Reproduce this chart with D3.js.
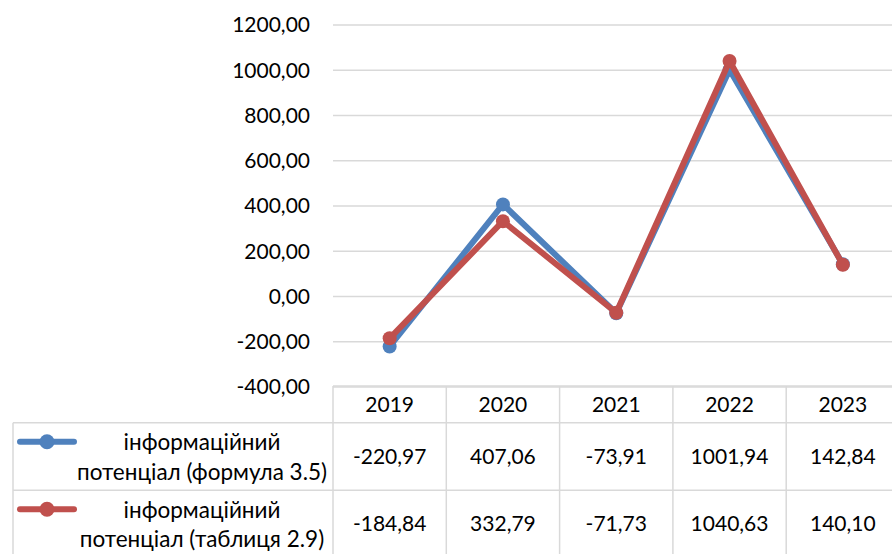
<!DOCTYPE html>
<html>
<head>
<meta charset="utf-8">
<script src="https://cdn.jsdelivr.net/npm/d3@7"></script>
<style>
  body { margin: 0; background: #fff; }
  svg { display: block; font-family: Lato, "Open Sans", sans-serif; }
</style>
</head>
<body>
<svg width="892" height="554"></svg>
<script>
const years = ["2019", "2020", "2021", "2022", "2023"];
const formulaValues = [-220.97, 407.06, -73.91, 1001.94, 142.84];
const tableValues = [-184.84, 332.79, -71.73, 1040.63, 140.10];
const seriesNames = [
  ["інформаційний", "потенціал (формула 3.5)"],
  ["інформаційний", "потенціал (таблиця 2.9)"]
];
const yTicks = [-400, -200, 0, 200, 400, 600, 800, 1000, 1200];

const series = [
  { name: seriesNames[0], values: formulaValues, color: "#4f81bd" },
  { name: seriesNames[1], values: tableValues, color: "#c0504d" }
];

const svg = d3.select("svg");
const fontSize = 21;
const gridColor = "#d9d9d9";
const fmt = v => v.toFixed(2).replace(".", ",");

const x = d3.scaleBand().domain(years).range([333, 899.5]);
const y = d3.scaleLinear().domain([-400, 1200]).range([387, 25]);

// gridlines
svg.append("g")
  .selectAll("line")
  .data(yTicks)
  .join("line")
  .attr("x1", x.range()[0])
  .attr("x2", x.range()[1])
  .attr("y1", d => y(d))
  .attr("y2", d => y(d))
  .attr("stroke", gridColor)
  .attr("stroke-width", 1.5);

// y labels
svg.append("g")
  .selectAll("text")
  .data(yTicks)
  .join("text")
  .attr("x", 310)
  .attr("y", d => y(d))
  .attr("dy", "0.35em")
  .attr("text-anchor", "end")
  .style("font-size", fontSize + "px")
  .attr("fill", "#000")
  .text(fmt);

// lines + markers
const line = d3.line()
  .x((d, i) => x(years[i]) + x.bandwidth() / 2)
  .y(d => y(d));

series.forEach(s => {
  const g = svg.append("g");
  g.append("path")
    .attr("d", line(s.values))
    .attr("fill", "none")
    .attr("stroke", s.color)
    .attr("stroke-width", 6)
    .attr("stroke-linejoin", "round");
  g.selectAll("circle")
    .data(s.values)
    .join("circle")
    .attr("cx", (d, i) => x(years[i]) + x.bandwidth() / 2)
    .attr("cy", d => y(d))
    .attr("r", 7)
    .attr("fill", s.color);
});

// data table
const tableTop = y(-400) - 1;
const headerBottom = 422.7;
const rowH = 67.5;
const legendLeft = 13;
const tbl = svg.append("g");
const border = (x1, y1, x2, y2) => tbl.append("line")
  .attr("x1", x1).attr("y1", y1).attr("x2", x2).attr("y2", y2)
  .attr("stroke", gridColor).attr("stroke-width", 1.5);

const tableBottom = headerBottom + rowH * series.length;
border(x.range()[0], tableTop, x.range()[1], tableTop);
border(legendLeft, headerBottom, x.range()[1], headerBottom);
series.forEach((s, i) => border(legendLeft, headerBottom + rowH * (i + 1), x.range()[1], headerBottom + rowH * (i + 1)));
border(legendLeft, headerBottom, legendLeft, tableBottom);
years.concat(["end"]).forEach((yr, i) => {
  const xx = i < years.length ? x(yr) : x.range()[1];
  border(xx, tableTop, xx, tableBottom);
});

// header
tbl.selectAll("text.year")
  .data(years)
  .join("text")
  .attr("class", "year")
  .attr("x", d => x(d) + x.bandwidth() / 2)
  .attr("y", (tableTop + headerBottom) / 2)
  .attr("dy", "0.35em")
  .attr("text-anchor", "middle")
  .style("font-size", fontSize + "px")
  .text(d => d);

series.forEach((s, i) => {
  const top = headerBottom + rowH * i;
  const mid = top + rowH / 2;
  tbl.selectAll("text.v" + i)
    .data(s.values)
    .join("text")
    .attr("class", "v" + i)
    .attr("x", (d, j) => x(years[j]) + x.bandwidth() / 2)
    .attr("y", mid)
    .attr("dy", "0.35em")
    .attr("text-anchor", "middle")
    .style("font-size", fontSize + "px")
    .text(fmt);

  // legend key
  const ky = top + 19;
  tbl.append("line")
    .attr("x1", 20).attr("x2", 74)
    .attr("y1", ky).attr("y2", ky)
    .attr("stroke", s.color)
    .attr("stroke-width", 6)
    .attr("stroke-linecap", "round");
  tbl.append("circle")
    .attr("cx", 47).attr("cy", ky).attr("r", 7.5)
    .attr("fill", s.color);

  const label = tbl.append("text")
    .attr("text-anchor", "middle")
    .style("font-size", "22.5px");
  s.name.forEach((t, k) => {
    label.append("tspan")
      .attr("x", 202)
      .attr("y", top + 27.5 + k * 29.5)
      .text(t);
  });
});
</script>
</body>
</html>
